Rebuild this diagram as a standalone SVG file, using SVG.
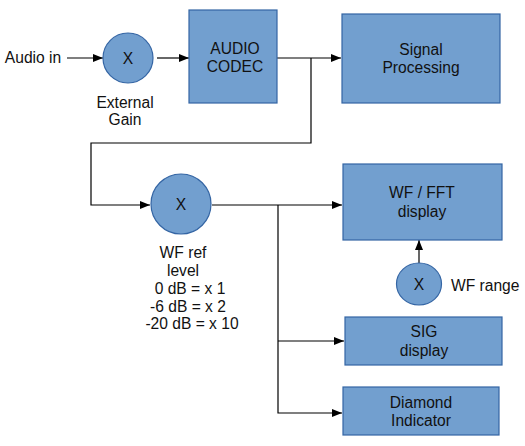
<svg xmlns="http://www.w3.org/2000/svg" width="525" height="446" viewBox="0 0 525 446">
<style>
.n{fill:#729fcf;stroke:#3465a4;stroke-width:1.2}
.t{font-family:"Liberation Sans",Arial,sans-serif;font-size:15.6px;fill:#111;text-anchor:middle}
.c{fill:none;stroke:#000;stroke-width:1.2}
</style>
<defs>
<marker id="a" viewBox="0 0 10 8" refX="10" refY="4" markerWidth="10" markerHeight="8" markerUnits="userSpaceOnUse" orient="auto">
<path d="M0,0 L10,4 L0,8 Z" fill="#000"/>
</marker>
</defs>
<rect width="525" height="446" fill="#fff"/>
<g id="connectors">
<path class="c" d="M67,58 H103" marker-end="url(#a)"/>
<path class="c" d="M157,58 H189" marker-end="url(#a)"/>
<path class="c" d="M277,58 H341" marker-end="url(#a)"/>
<path class="c" d="M311,58 V143 H91 V205 H150" marker-end="url(#a)"/>
<path class="c" d="M212,205 H342" marker-end="url(#a)"/>
<path class="c" d="M278,205 V413 H342" marker-end="url(#a)"/>
<path class="c" d="M278,341 H344" marker-end="url(#a)"/>
<path class="c" d="M419,263 V240" marker-end="url(#a)"/>
</g>
<g id="audio-in"><text class="t" x="33" y="63">Audio in</text></g>
<g id="external-gain">
<circle class="n" cx="128" cy="58" r="25"/>
<text class="t" x="128" y="64">X</text>
<text class="t" x="125" y="108">External</text>
<text class="t" x="125" y="125">Gain</text>
</g>
<g id="audio-codec">
<rect class="n" x="189" y="10" width="88" height="93"/>
<text class="t" x="235" y="54">AUDIO</text>
<text class="t" x="235" y="72">CODEC</text>
</g>
<g id="signal-processing">
<rect class="n" x="342" y="14" width="158" height="89"/>
<text class="t" x="421" y="55">Signal</text>
<text class="t" x="421" y="73">Processing</text>
</g>
<g id="wf-ref-level">
<circle class="n" cx="181" cy="204" r="30"/>
<text class="t" x="181" y="210">X</text>
<text class="t" x="183" y="258">WF ref</text>
<text class="t" x="183" y="276">level</text>
<text class="t" x="190" y="294">0 dB = x 1</text>
<text class="t" x="188" y="312">-6 dB = x 2</text>
<text class="t" x="192" y="329">-20 dB = x 10</text>
</g>
<g id="wf-fft-display">
<rect class="n" x="343" y="164" width="159" height="76"/>
<text class="t" x="422" y="198">WF / FFT</text>
<text class="t" x="422" y="217">display</text>
</g>
<g id="wf-range">
<ellipse class="n" cx="419" cy="284" rx="22.5" ry="21"/>
<text class="t" x="419" y="290">X</text>
<text class="t" x="451" y="291" style="text-anchor:start">WF range</text>
</g>
<g id="sig-display">
<rect class="n" x="345" y="317" width="157" height="48"/>
<text class="t" x="424" y="337">SIG</text>
<text class="t" x="424" y="356">display</text>
</g>
<g id="diamond-indicator">
<rect class="n" x="343" y="387" width="156" height="48"/>
<text class="t" x="421" y="408">Diamond</text>
<text class="t" x="421" y="426">Indicator</text>
</g>
</svg>
